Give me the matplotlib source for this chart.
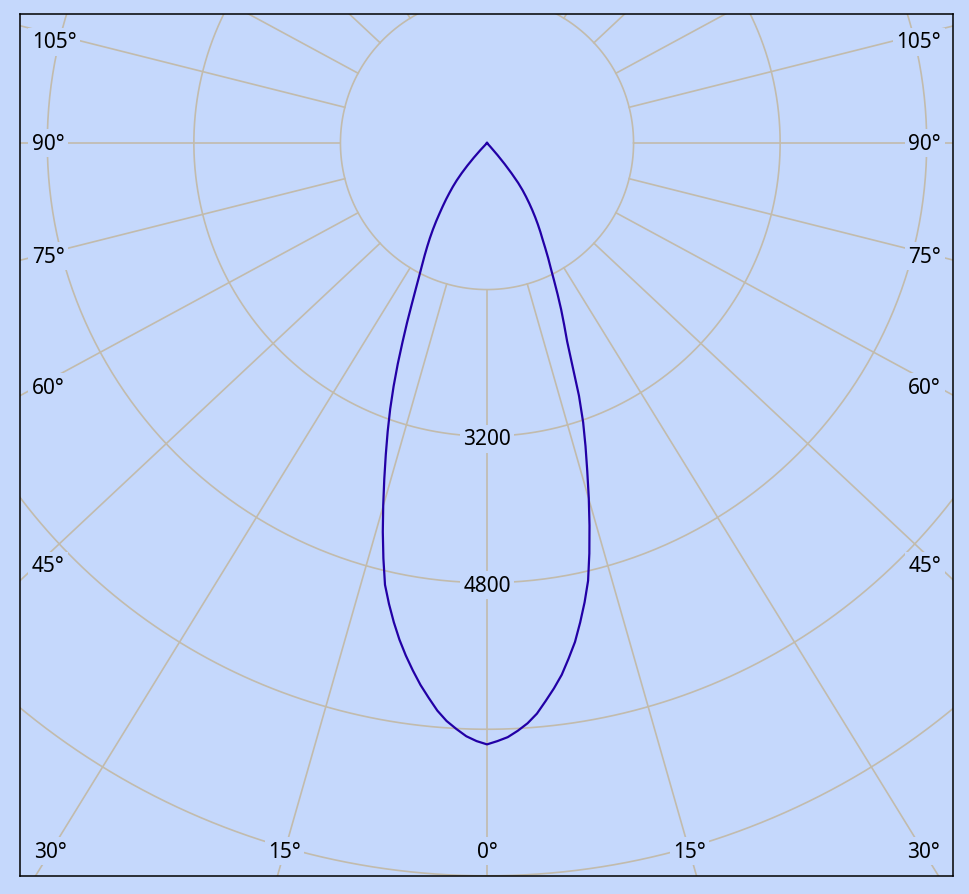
import numpy as np
import matplotlib
matplotlib.use("Agg")
import matplotlib.pyplot as plt

# luminous intensity (cd) against gamma angle (deg from nadir), 1 deg steps
gamma = list(range(0, 46))
i_c180 = [6565, 6530, 6480, 6405, 6325, 6220, 6090, 5960, 5815, 5665,
          5505, 5330, 5145, 4950, 4675, 4395, 4110, 3835, 3575, 3330,
          3090, 2845, 2600, 2360, 2145, 1945, 1775, 1630, 1510, 1405,
          1305, 1210, 1115, 1020, 925, 840, 760, 680, 605, 525,
          430, 325, 215, 105, 0, 0]
i_c0 = [6565, 6530, 6490, 6425, 6350, 6253, 6125, 5998, 5862, 5697,
        5531, 5331, 5125, 4905, 4618, 4323, 4031, 3743, 3480, 3223,
        2935, 2600, 2335, 2155, 1990, 1825, 1670, 1533, 1422, 1312,
        1212, 1130, 1048, 966, 885, 805, 725, 645, 552, 426,
        301, 176, 55, 0, 0, 0]

rings = [1600, 3200, 4800, 6400, 8000, 9600]
ring_labels = [3200, 4800]
spoke_step = 15
side_labels = [105, 90, 75, 60, 45]
bottom_labels = [-30, -15, 0, 15, 30]

BG = "#C5D8FC"
GRID = "#C2BBAC"
CURVE = "#2200A6"
plt.rcParams['font.family'] = ['Noto Sans', 'DejaVu Sans']

W, H = 969, 895
fig = plt.figure(figsize=(W / 100, H / 100), dpi=100, facecolor=BG)
# frame pixels: x 20..953, y 15..877 ; pole at (487, 144)
ax = fig.add_axes([20 / W, 18 / H, 933 / W, 862 / H])
ax.set_facecolor(BG)
k = 862 / 9410.0  # px per cd
cx, cy = 487, 144
ax.set_xlim(-(cx - 20) / k, (953 - cx) / k)
ax.set_ylim(-(877 - cy) / k, (cy - 15) / k)
ax.set_xticks([])
ax.set_yticks([])
for s in ax.spines.values():
    s.set_linewidth(1.1)
    s.set_color("black")

# rings
t = np.linspace(0, 2 * np.pi, 721)
for r in rings:
    ax.plot(r * np.cos(t), r * np.sin(t), color=GRID, lw=1.2, zorder=1)

# spokes (drawn a bit wide in x, like the original)
sx = 1.067
def spoke_dir(a):
    a = np.radians(a)
    return sx * np.sin(a), -np.cos(a)

for a in range(0, 360, spoke_step):
    dx, dy = spoke_dir(a)
    n = np.hypot(dx, dy)
    t0, t1 = rings[0] / n, 14000 / n
    ax.plot([t0 * dx, t1 * dx], [t0 * dy, t1 * dy], color=GRID, lw=1.2, zorder=1)

box = dict(facecolor=BG, edgecolor="none", pad=2.5)
fs = 15
y_top = (cy - 43) / k   # keep labels clear of the top frame

# angle labels on the sides
for a in side_labels:
    for side in (-1, 1):
        dx, dy = spoke_dir(a)
        xc = (36 - cx) / k if side < 0 else (938 - cx) / k
        y = min(abs(xc) / dx * dy, y_top)
        if side < 0:
            ax.text((32 - cx) / k, y, f"{a}°", ha="left", va="center",
                    fontsize=fs, bbox=box, zorder=3)
        else:
            ax.text((941 - cx) / k, y, f"{a}°", ha="right", va="center",
                    fontsize=fs, bbox=box, zorder=3)

# angle labels at the bottom
yb = -(852 - cy) / k
for a in bottom_labels:
    dx, dy = spoke_dir(a)
    ax.text(yb / dy * dx, yb, f"{abs(a)}°", ha="center", va="center",
            fontsize=fs, bbox=box, zorder=3)

# ring values
for r in ring_labels:
    ax.text(0, -r - 30, str(r), ha="center", va="center", fontsize=fs,
            bbox=box, zorder=3)

# light distribution curve: C180 on the left, C0 on the right
g = np.radians(gamma)
xl = -np.array(i_c180) * np.sin(g)
yl = -np.array(i_c180) * np.cos(g)
xr = np.array(i_c0) * np.sin(g)
yr = -np.array(i_c0) * np.cos(g)
xs = np.concatenate([xl[::-1], xr[1:]])
ys = np.concatenate([yl[::-1], yr[1:]])
ax.plot(xs, ys, color=CURVE, lw=1.6, zorder=4, solid_joinstyle="round")

fig.savefig("out.png", dpi=100, facecolor=BG)
